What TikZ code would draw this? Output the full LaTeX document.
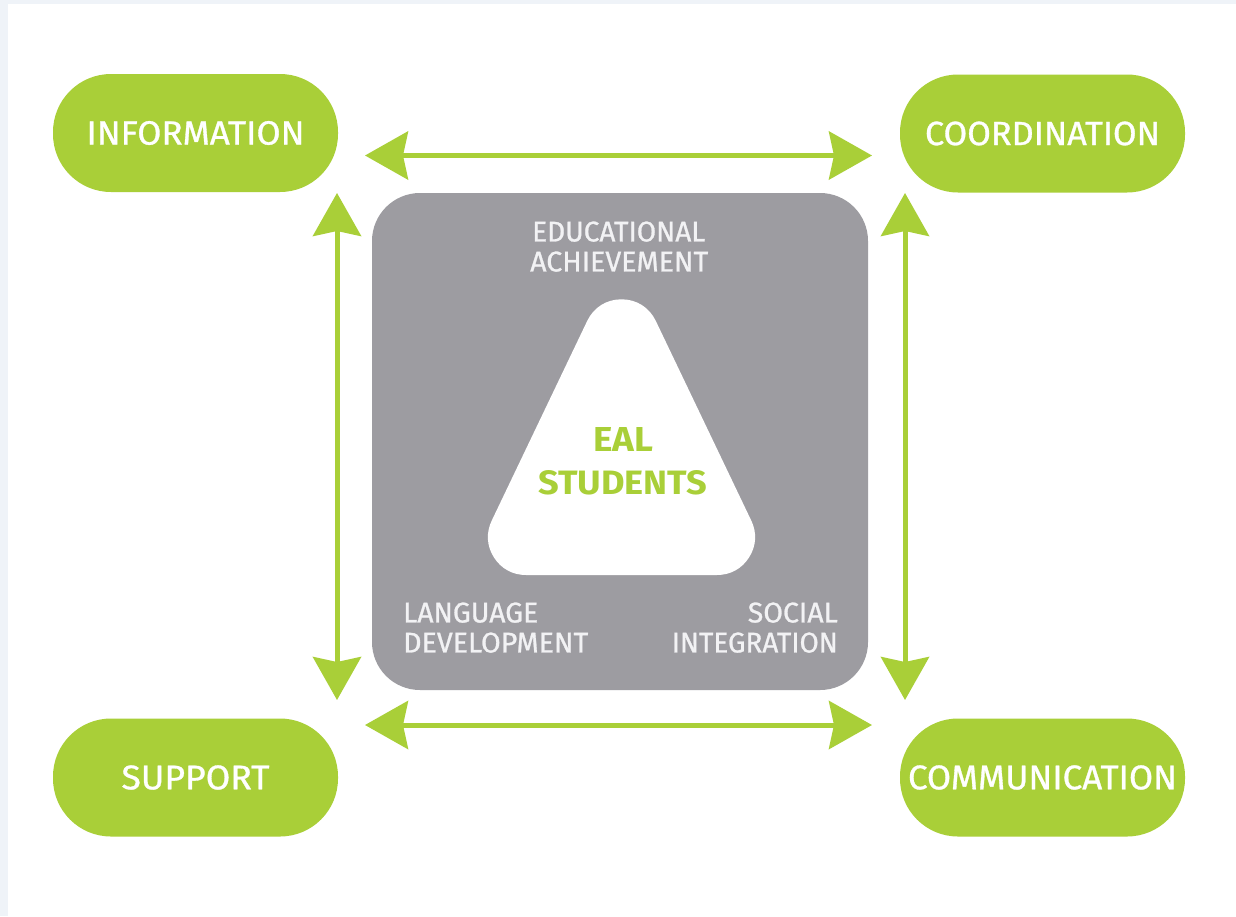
\documentclass[tikz,border=0pt]{standalone}
\usepackage{fontspec}
\setmainfont{Fira Sans}
\newfontfamily\medfont{Fira Sans}[FakeBold=0.9]
\usepackage{graphicx}
\usetikzlibrary{arrows.meta}
\definecolor{ealgreen}{HTML}{A9CF38}
\definecolor{boxgray}{HTML}{9D9CA1}
\definecolor{boxtext}{HTML}{F2F2F4}
\definecolor{edge}{HTML}{EFF3F8}
\newcommand\fitt[3]{\resizebox{#1pt}{#2pt}{#3}}
\tikzset{
  pill/.style={rectangle, rounded corners=58pt, fill=ealgreen, minimum width=285pt, minimum height=118pt, inner sep=0pt, text=white, font=\medfont},
  lbl/.style={inner sep=0pt, text=boxtext, font=\medfont},
  biarrow/.style={draw=ealgreen, line width=5pt, {Stealth[length=43pt,width=48pt,inset=5pt]}-{Stealth[length=43pt,width=48pt,inset=5pt]}}
}
\begin{document}
\begin{tikzpicture}[x=1pt,y=-1pt]
\useasboundingbox (0,0) rectangle (1236,916);
\fill[edge] (0,0) rectangle (1236,916);
\fill[white] (8,4) rectangle (1236,916);
% gray box
\fill[boxgray, rounded corners=48pt] (372,193) rectangle (868,690);
% white rounded triangle
\filldraw[white, line width=76pt, line join=round] (621.5,337.3) -- (526,537) -- (717,537) -- cycle;
% pills
\node[pill] (info)  at (195.5,133) {\fitt{218}{23.5}{INFORMATION}};
\node[pill] (coord) at (1042.5,133.5) {\fitt{235}{23.5}{COORDINATION}};
\node[pill] (supp)  at (195.5,777.5) {\fitt{148}{24}{SUPPORT}};
\node[pill] (comm)  at (1042.5,777.5) {\fitt{269}{24}{COMMUNICATION}};
% box labels
\node[lbl, anchor=south west] (edu1) at (532,242) {\fitt{173}{20}{EDUCATIONAL}};
\node[lbl, anchor=south west] (edu2) at (530,272) {\fitt{178}{20}{ACHIEVEMENT}};
\node[lbl, anchor=south west] (lang1) at (403,623) {\fitt{135}{20}{LANGUAGE}};
\node[lbl, anchor=south west] (lang2) at (403,653) {\fitt{185}{20}{DEVELOPMENT}};
\node[lbl, anchor=south east] (soc1) at (838,623) {\fitt{90}{20}{SOCIAL}};
\node[lbl, anchor=south east] (soc2) at (838,653) {\fitt{166}{20}{INTEGRATION}};
% centre text
\node[inner sep=0pt, text=ealgreen, anchor=south west] (eal1) at (593,452) {\bfseries\fitt{60}{24}{EAL}};
\node[inner sep=0pt, text=ealgreen, anchor=south west] (eal2) at (538,495) {\bfseries\fitt{169}{24}{STUDENTS}};
% arrow end points
\coordinate (tl) at (365,155.5);
\coordinate (tr) at (872,155.5);
\coordinate (bl) at (365,725);
\coordinate (br) at (872,725);
\coordinate (lu) at (337,193);
\coordinate (ld) at (337,700);
\coordinate (ru) at (905,193);
\coordinate (rd) at (905,700);
\draw[biarrow] (tl) -- (tr);
\draw[biarrow] (bl) -- (br);
\draw[biarrow] (lu) -- (ld);
\draw[biarrow] (ru) -- (rd);
\end{tikzpicture}
\end{document}
